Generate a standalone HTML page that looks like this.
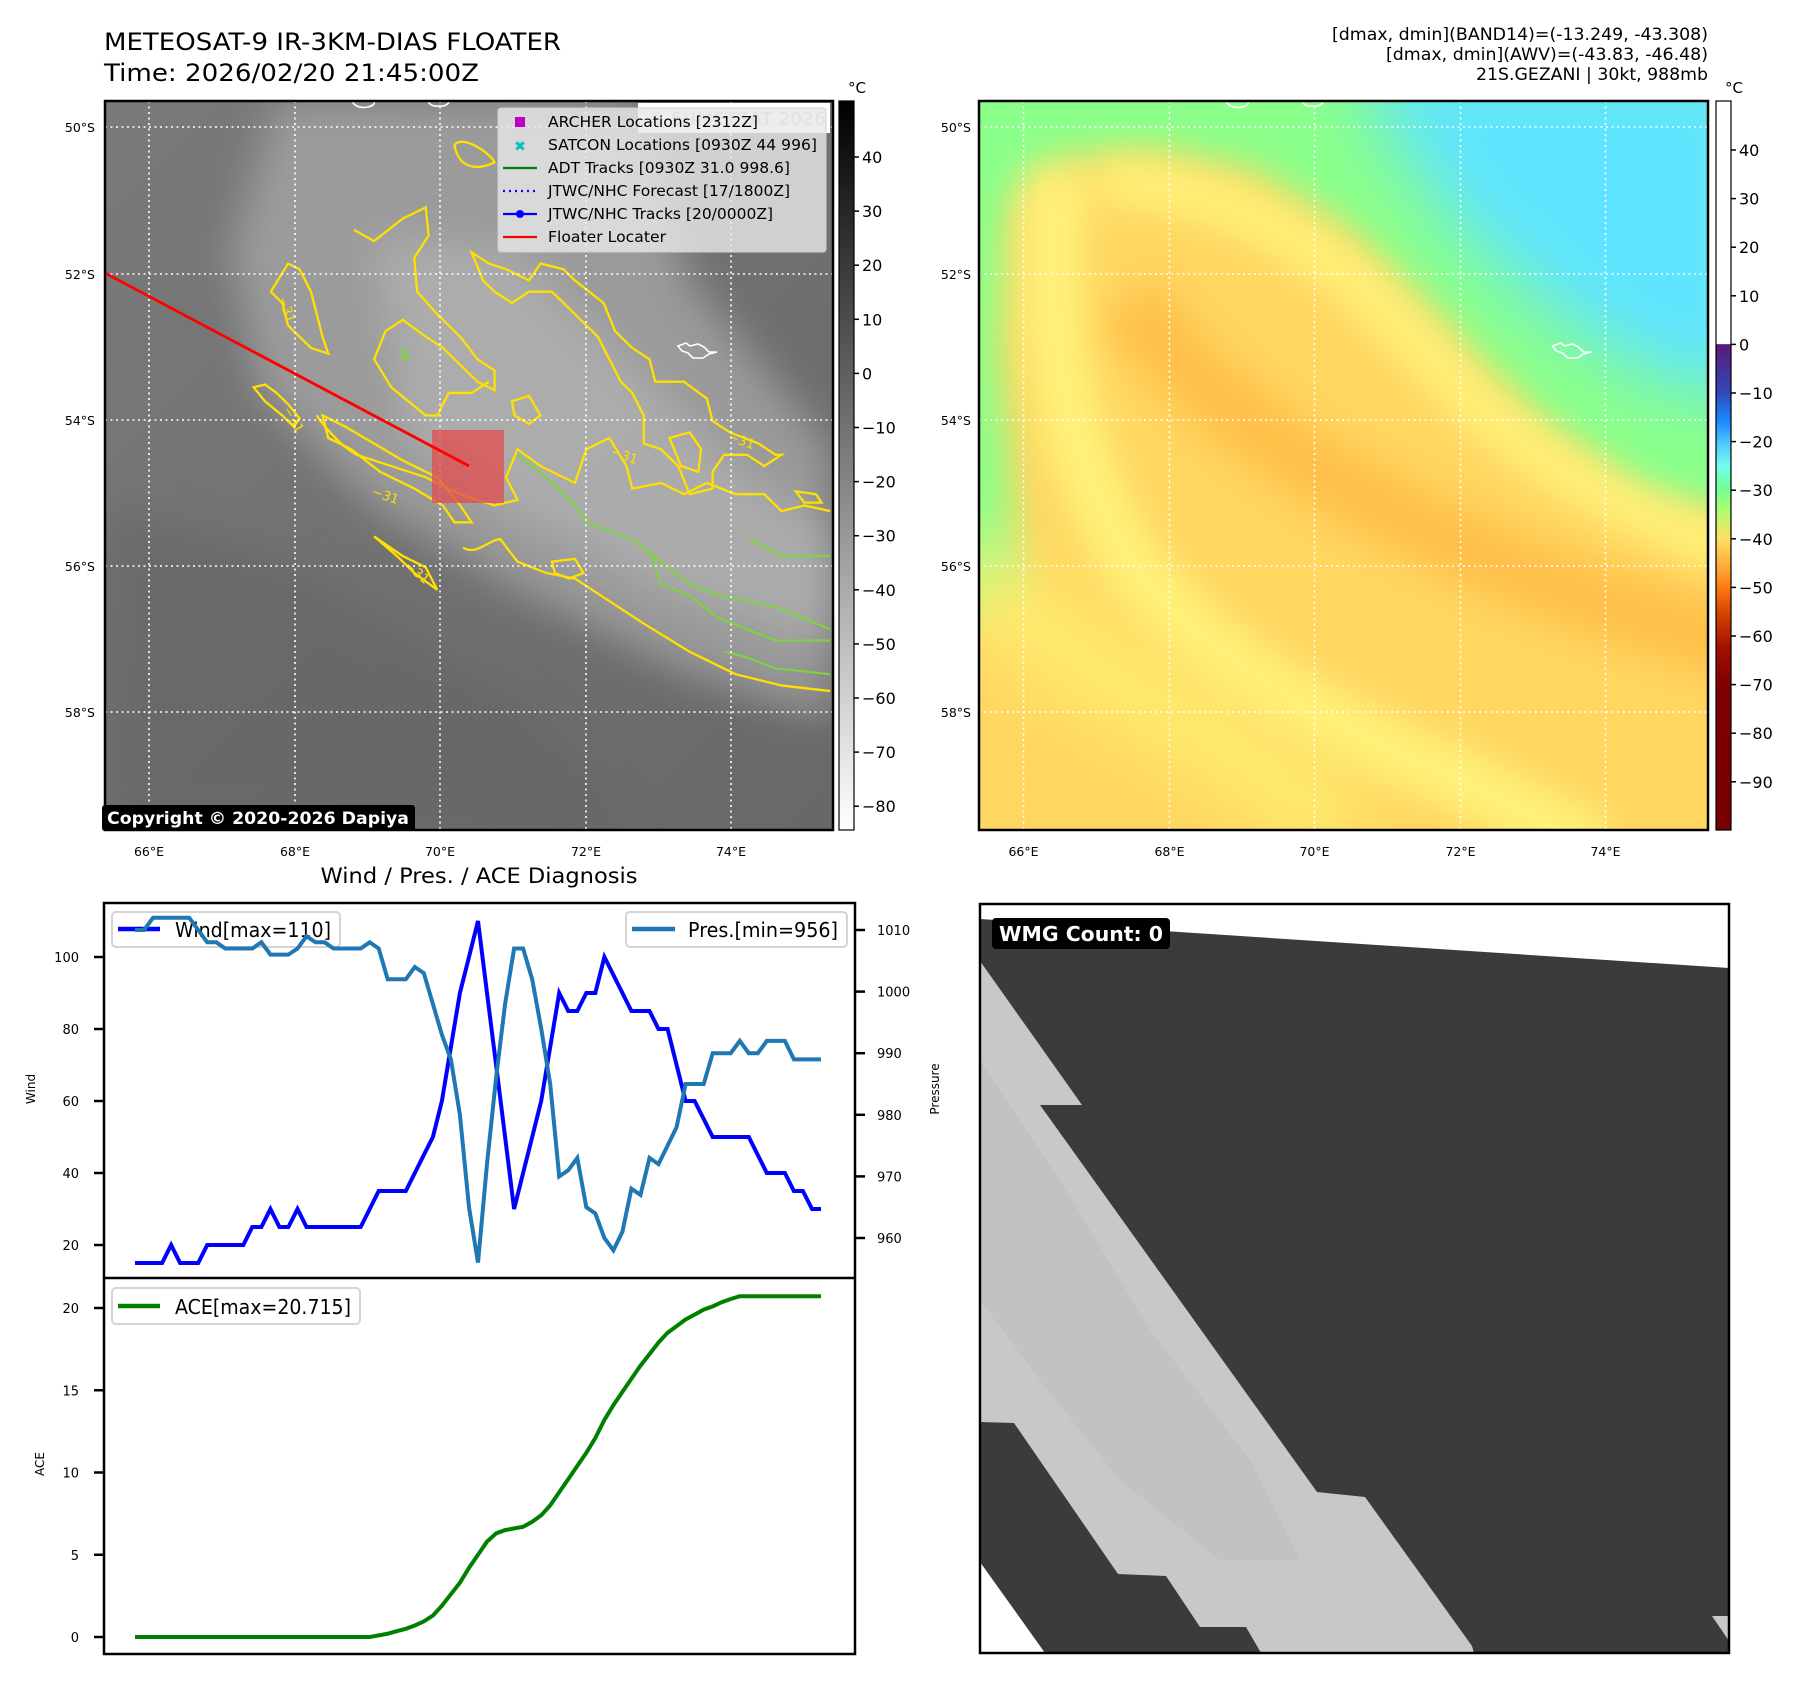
<!DOCTYPE html>
<html><head><meta charset="utf-8"><title>METEOSAT-9 Floater</title>
<style>
html,body{margin:0;padding:0;background:#fff;}
svg{display:block;font-family:"DejaVu Sans","Liberation Sans",sans-serif;}
</style></head>
<body>
<svg id="root" width="1797" height="1690" viewBox="0 0 1797 1690" xmlns="http://www.w3.org/2000/svg">
<defs>
<filter id="blur40" x="-30%" y="-30%" width="160%" height="160%"><feGaussianBlur stdDeviation="35"/></filter>
<filter id="blur20" x="-30%" y="-30%" width="160%" height="160%"><feGaussianBlur stdDeviation="18"/></filter>
<clipPath id="clip1"><rect x="105" y="101" width="728" height="729"/></clipPath>
<clipPath id="clip2"><rect x="979" y="101" width="729" height="729"/></clipPath>
<clipPath id="clip4"><rect x="980" y="904" width="749" height="749"/></clipPath>
<linearGradient id="cb1" x1="0" y1="0" x2="0" y2="1"><stop offset="0" stop-color="#000"/><stop offset="1" stop-color="#fff"/></linearGradient>
<linearGradient id="cb2" x1="0" y1="0" x2="0" y2="1">
<stop offset="0" stop-color="#ffffff"/><stop offset="0.333" stop-color="#ffffff"/>
<stop offset="0.334" stop-color="#5b1a78"/><stop offset="0.4" stop-color="#3048b8"/>
<stop offset="0.44" stop-color="#1a8cff"/><stop offset="0.47" stop-color="#50c8ff"/>
<stop offset="0.5" stop-color="#70fff0"/><stop offset="0.53" stop-color="#70ff9a"/>
<stop offset="0.56" stop-color="#a8ff70"/><stop offset="0.6" stop-color="#ffe060"/>
<stop offset="0.64" stop-color="#ffa838"/><stop offset="0.667" stop-color="#ff7a10"/>
<stop offset="0.7" stop-color="#d84800"/><stop offset="0.75" stop-color="#a01000"/>
<stop offset="0.8" stop-color="#800000"/><stop offset="1" stop-color="#780000"/>
</linearGradient>
<linearGradient id="map1base" x1="0" y1="0" x2="1" y2="1"><stop offset="0" stop-color="#7a7a7a"/><stop offset="1" stop-color="#686868"/></linearGradient>
</defs>

<!-- Titles -->
<text x="104" y="50" font-size="24" textLength="457" lengthAdjust="spacingAndGlyphs">METEOSAT-9 IR-3KM-DIAS FLOATER</text>
<text x="104" y="81" font-size="24" textLength="375" lengthAdjust="spacingAndGlyphs">Time: 2026/02/20 21:45:00Z</text>
<g font-size="16.5" text-anchor="end">
<text x="1708" y="40" textLength="376" lengthAdjust="spacingAndGlyphs">[dmax, dmin](BAND14)=(-13.249, -43.308)</text>
<text x="1708" y="60" textLength="322" lengthAdjust="spacingAndGlyphs">[dmax, dmin](AWV)=(-43.83, -46.48)</text>
<text x="1708" y="80" textLength="232" lengthAdjust="spacingAndGlyphs">21S.GEZANI | 30kt, 988mb</text>
</g>

<!-- MAP 1 -->
<g>
<g clip-path="url(#clip1)">
<rect x="105" y="101" width="728" height="729" fill="url(#map1base)"/>
<polygon filter="url(#blur40)" fill="#a8a8a8" opacity="0.75" transform="matrix(0.5737 0 0 0.5625 1.2 -0.8)" points="480,181 1100,181 1200,500 1450,800 1450,1280 1200,1200 900,1050 650,900 450,700 400,450"/>
<polygon filter="url(#blur40)" fill="#b8b8b8" opacity="0.6" transform="matrix(0.5737 0 0 0.5625 1.2 -0.8)" points="650,420 900,450 1100,650 1300,850 1450,950 1450,1150 1150,1050 900,920 700,780"/>
<polygon filter="url(#blur40)" fill="#626262" opacity="0.5" transform="matrix(0.5737 0 0 0.5625 1.2 -0.8)" points="181,900 500,1000 900,1250 1100,1477 181,1477"/>
<g transform="matrix(0.5737 0 0 0.5625 1.2 -0.8)" fill="none" stroke="#ffe000" stroke-width="2.3">
<path vector-effect="non-scaling-stroke" d="M550,740 C570,770 600,800 620,810 L680,830 740,850 800,880 860,900 900,890 880,850 900,800 940,830 1000,860 1020,800 1060,780 1090,830 1100,870 1150,860 1190,880 1230,860 1280,880 1330,880 1360,910 1400,900 1445,910"/>
<path vector-effect="non-scaling-stroke" d="M805,975 C830,990 850,960 870,960 L900,1000 950,1020 1000,1030 1060,1070 1120,1110 1200,1160 1280,1200 1360,1220 1445,1230"/>
<path vector-effect="non-scaling-stroke" d="M615,410 L650,430 700,390 740,370 745,420 720,460 725,520 760,560 800,600 830,640 860,660 860,695 830,680 800,650 770,620 740,600 700,570 670,590 650,640 680,690 740,740 760,740 780,700 820,700 850,680"/>
<path vector-effect="non-scaling-stroke" d="M820,450 L850,470 880,480 920,500 940,470 980,480 1000,500 1050,540 1070,590 1100,620 1130,640 1140,680 1190,680 1230,710 1240,750 1270,770 1320,790 1350,810 1360,810 1330,830 1300,810 1260,810 1240,840 1240,870 1200,880 1180,830 1150,800 1120,790 1120,740 1100,700 1080,680 1060,640 1040,600 1000,560 960,520 920,520 890,540 860,520 840,500 Z"/>
<path vector-effect="non-scaling-stroke" d="M440,690 L460,685 480,700 500,720 520,745 510,760 490,740 460,715 Z"/>
<path vector-effect="non-scaling-stroke" d="M470,520 L500,470 520,480 540,520 550,560 560,600 570,630 540,620 520,600 500,580 490,540 Z"/>
<path vector-effect="non-scaling-stroke" d="M650,955 L700,990 740,1010 760,1050 720,1020 690,990 Z"/>
<path vector-effect="non-scaling-stroke" d="M790,260 C800,240 850,270 860,290 C840,300 800,310 790,260 Z"/>
<path vector-effect="non-scaling-stroke" d="M560,740 L600,760 650,790 700,820 760,850 800,900 820,930 790,930 770,900 720,870 660,840 610,800 570,780 Z"/>
<path vector-effect="non-scaling-stroke" d="M890,715 L920,705 940,740 920,755 895,740 Z"/>
<path vector-effect="non-scaling-stroke" d="M1165,780 L1200,770 1220,800 1215,840 1185,830 Z"/>
<path vector-effect="non-scaling-stroke" d="M1385,875 L1420,880 1430,895 1400,895 Z"/>
<path vector-effect="non-scaling-stroke" d="M960,1000 L1000,995 1015,1020 990,1030 965,1020 Z"/>
</g>
<g transform="matrix(0.5737 0 0 0.5625 1.2 -0.8)" fill="none" stroke="#7cd63a" stroke-width="2">
<path vector-effect="non-scaling-stroke" d="M900,810 L950,850 1000,900 1020,930 1100,960 1150,1000 1200,1040 1250,1060 1300,1070 1350,1080 1445,1120"/>
<path vector-effect="non-scaling-stroke" d="M1130,980 L1150,1040 1200,1060 1250,1100 1300,1120 1350,1140 1445,1140"/>
<path vector-effect="non-scaling-stroke" d="M1260,1160 L1300,1170 1350,1190 1400,1195 1445,1200"/>
<path vector-effect="non-scaling-stroke" d="M1305,960 L1360,990 1445,990"/>
<path vector-effect="non-scaling-stroke" d="M700,620 L710,640 700,640 Z"/>
</g>
<g fill="#ffe000" font-size="13">
<text x="278" y="298" transform="rotate(70 278 298)">−31</text>
<text x="283" y="410" transform="rotate(60 283 410)">−31</text>
<text x="371" y="495" transform="rotate(20 371 495)">−31</text>
<text x="610" y="455" transform="rotate(20 610 455)">−31</text>
<text x="727" y="440" transform="rotate(20 727 440)">−31</text>
<text x="404" y="567" transform="rotate(40 404 567)">−31</text>
</g>
<g fill="none" stroke="#fff" stroke-width="1.6">
<path d="M678,346 l8,-3 4,3 8,-2 6,3 5,5 8,0 -8,2 -6,4 -10,0 -5,-5 -6,-2z"/>
<path d="M352,101 q4,8 16,6 q8,-2 6,-6"/>
<path d="M428,101 q2,6 12,5 q6,1 10,-5"/>
</g>
<g stroke="#fff" stroke-width="1.6" stroke-dasharray="2,3.5">
<line x1="149" y1="101" x2="149" y2="830"/><line x1="295" y1="101" x2="295" y2="830"/><line x1="440" y1="101" x2="440" y2="830"/><line x1="586" y1="101" x2="586" y2="830"/><line x1="731" y1="101" x2="731" y2="830"/>
<line x1="105" y1="127" x2="833" y2="127"/><line x1="105" y1="274" x2="833" y2="274"/><line x1="105" y1="420" x2="833" y2="420"/><line x1="105" y1="566" x2="833" y2="566"/><line x1="105" y1="712" x2="833" y2="712"/>
</g>
<rect x="432" y="430" width="72" height="73" fill="#e05050" opacity="0.78"/>
<line x1="105" y1="273" x2="469" y2="466" stroke="#ff0000" stroke-width="2.8"/>
<rect x="638" y="103" width="192" height="30" fill="#fff"/>
<text x="648" y="125" font-size="19" font-weight="bold" fill="#cfcfcf" textLength="178" lengthAdjust="spacingAndGlyphs">© EUMETSAT 2026</text>
</g>
<rect x="105" y="101" width="728" height="729" fill="none" stroke="#000" stroke-width="2.5"/>
<!-- legend -->
<g>
<rect x="498" y="108" width="328" height="144" rx="3" fill="#e8e8e8" fill-opacity="0.8" stroke="#d0d0d0"/>
<rect x="515" y="117" width="10" height="10" fill="#c000c0"/>
<text x="520" y="151" font-size="14" font-weight="bold" fill="#00c0c0" text-anchor="middle">✖</text>
<line x1="503" y1="168" x2="537" y2="168" stroke="#008000" stroke-width="2.3"/>
<line x1="503" y1="191" x2="537" y2="191" stroke="#0000ff" stroke-width="2.3" stroke-dasharray="2,4"/>
<line x1="503" y1="214" x2="537" y2="214" stroke="#0000ff" stroke-width="2.3"/><circle cx="520" cy="214" r="4" fill="#0000ff"/>
<line x1="503" y1="237" x2="537" y2="237" stroke="#ff0000" stroke-width="2.3"/>
<g font-size="15" fill="#000">
<text x="548" y="127" textLength="210" lengthAdjust="spacingAndGlyphs">ARCHER Locations [2312Z]</text>
<text x="548" y="150" textLength="269" lengthAdjust="spacingAndGlyphs">SATCON Locations [0930Z 44 996]</text>
<text x="548" y="173" textLength="242" lengthAdjust="spacingAndGlyphs">ADT Tracks [0930Z 31.0 998.6]</text>
<text x="548" y="196" textLength="242" lengthAdjust="spacingAndGlyphs">JTWC/NHC Forecast [17/1800Z]</text>
<text x="548" y="219" textLength="225" lengthAdjust="spacingAndGlyphs">JTWC/NHC Tracks [20/0000Z]</text>
<text x="548" y="242" textLength="118" lengthAdjust="spacingAndGlyphs">Floater Locater</text>
</g>
</g>
<rect x="102" y="805" width="313" height="26" rx="3" fill="#000"/>
<text x="107" y="824" font-size="17" font-weight="bold" fill="#fff" textLength="302" lengthAdjust="spacingAndGlyphs">Copyright © 2020-2026 Dapiya</text>
<g font-size="12.5" fill="#000">
<g text-anchor="end"><text x="95" y="132">50°S</text><text x="95" y="279">52°S</text><text x="95" y="425">54°S</text><text x="95" y="571">56°S</text><text x="95" y="717">58°S</text></g>
<g text-anchor="middle"><text x="149" y="856">66°E</text><text x="295" y="856">68°E</text><text x="440" y="856">70°E</text><text x="586" y="856">72°E</text><text x="731" y="856">74°E</text></g>
</g>
<rect x="839" y="101" width="15" height="729" fill="url(#cb1)" stroke="#000" stroke-width="1.2"/>
<text x="848" y="93" font-size="15">°C</text>
<g id="cb1ticks" font-size="16"></g>
</g>

<!-- MAP 2 -->
<g>
<g clip-path="url(#clip2)">
<rect x="979" y="101" width="729" height="729" fill="#ffd660"/>
<polygon filter="url(#blur20)" fill="#8aff8a" points="940,60 1760,60 1760,520 1650,500 1550,430 1450,330 1350,230 1250,170 1150,150 1060,160 1010,200 1000,350 1010,480 1020,600 940,620"/>
<polygon filter="url(#blur40)" fill="#5fe4ff" points="1350,60 1760,60 1760,400 1660,380 1560,320 1460,230 1400,150"/>
<path filter="url(#blur20)" fill="none" stroke="#fff27a" stroke-width="60" d="M1060,170 C1040,300 1060,450 1130,560 C1200,660 1320,720 1460,780 L1600,850"/>
<path filter="url(#blur20)" fill="none" stroke="#fff27a" stroke-width="45" d="M1100,180 C1250,190 1350,260 1450,380 C1550,480 1650,520 1760,560"/>
<path filter="url(#blur20)" fill="none" stroke="#ffc04a" stroke-width="70" d="M1130,300 C1200,400 1300,470 1450,540 C1550,590 1650,620 1760,650"/>
<path filter="url(#blur40)" fill="none" stroke="#ffec70" stroke-width="80" d="M950,560 C1050,650 1150,700 1250,760 L1350,840"/>
<path fill="none" stroke="#fff" stroke-width="1.6" d="M1552.5,346 l8,-3 4,3 8,-2 6,3 5,5 8,0 -8,2 -6,4 -10,0 -5,-5 -6,-2z"/>
<path fill="none" stroke="#fff" stroke-width="1.6" d="M1226,101 q4,8 16,6 q8,-2 6,-6 M1302,101 q2,6 12,5 q6,1 10,-5"/>
<g stroke="#fff" stroke-width="1.6" stroke-dasharray="2,3.5">
<line x1="1023.5" y1="101" x2="1023.5" y2="830"/><line x1="1169.5" y1="101" x2="1169.5" y2="830"/><line x1="1314.5" y1="101" x2="1314.5" y2="830"/><line x1="1460.5" y1="101" x2="1460.5" y2="830"/><line x1="1605.5" y1="101" x2="1605.5" y2="830"/>
<line x1="979" y1="127" x2="1708" y2="127"/><line x1="979" y1="274" x2="1708" y2="274"/><line x1="979" y1="420" x2="1708" y2="420"/><line x1="979" y1="566" x2="1708" y2="566"/><line x1="979" y1="712" x2="1708" y2="712"/>
</g>
</g>
<rect x="979" y="101" width="729" height="729" fill="none" stroke="#000" stroke-width="2.5"/>
<g font-size="12.5" fill="#000">
<g text-anchor="end"><text x="971" y="132">50°S</text><text x="971" y="279">52°S</text><text x="971" y="425">54°S</text><text x="971" y="571">56°S</text><text x="971" y="717">58°S</text></g>
<g text-anchor="middle"><text x="1023.5" y="856">66°E</text><text x="1169.5" y="856">68°E</text><text x="1314.5" y="856">70°E</text><text x="1460.5" y="856">72°E</text><text x="1605.5" y="856">74°E</text></g>
</g>
<rect x="1716" y="101" width="15" height="729" fill="url(#cb2)" stroke="#000" stroke-width="1.2"/>
<text x="1725" y="93" font-size="15">°C</text>
<g id="cb2ticks" font-size="16"></g>
</g>

<!-- Diagnosis chart -->
<text x="479" y="883" font-size="21" text-anchor="middle" textLength="317" lengthAdjust="spacingAndGlyphs">Wind / Pres. / ACE Diagnosis</text>
<g id="chart"></g>

<!-- WMG panel -->
<g>
<g clip-path="url(#clip4)">
<rect x="980" y="904" width="749" height="749" fill="#fff"/>
<polygon fill="#3b3b3b" points="980,919 1729,968 1729,1653 1045,1653 980,1562"/>
<polygon fill="#c8c8c8" points="980,961 1082,1105 1040,1105 1317,1492 1365,1497 1472,1646 1474,1653 1261,1653 1246,1627 1200,1627 1166,1576 1118,1574 1014,1423 980,1422"/>
<polygon fill="#c0c0c0" opacity="0.8" points="980,1060 1060,1180 1150,1330 1250,1460 1300,1560 1220,1560 1120,1480 1040,1380 980,1300"/>
<polygon fill="#c8c8c8" points="1712,1616 1729,1616 1729,1641"/>
</g>
<rect x="980" y="904" width="749" height="749" fill="none" stroke="#000" stroke-width="2.5"/>
<rect x="992" y="918" width="178" height="31" rx="4" fill="#000"/>
<text x="999" y="941" font-size="20" font-weight="bold" fill="#fff" textLength="164" lengthAdjust="spacingAndGlyphs">WMG Count: 0</text>
</g>

<script>
// ---- chart data (6-hourly fixes) ----
var windValues = [15,15,15,15,20,15,15,15,20,20,20,20,20,25,25,30,25,25,30,25,25,25,25,25,25,25,30,35,35,35,35,40,45,50,60,75,90,100,110,90,70,50,30,40,50,60,75,90,85,85,90,90,100,95,90,85,85,85,80,80,70,60,60,55,50,50,50,50,50,45,40,40,40,35,35,30,30];
var presValues = [1010,1010,1012,1012,1012,1012,1012,1010,1008,1008,1007,1007,1007,1007,1008,1006,1006,1006,1007,1009,1008,1008,1007,1007,1007,1007,1008,1007,1002,1002,1002,1004,1003,998,993,989,980,965,956,972,986,998,1007,1007,1002,994,985,970,971,973,965,964,960,958,961,968,967,973,972,975,978,985,985,985,990,990,990,992,990,990,992,992,992,989,989,989,989];
var aceValues = [0,0,0,0,0,0,0,0,0,0,0,0,0,0,0,0,0,0,0,0,0,0,0,0,0,0,0,0.1,0.2,0.35,0.5,0.7,0.95,1.3,1.9,2.6,3.3,4.2,5.0,5.8,6.3,6.5,6.6,6.7,7.0,7.4,8.0,8.8,9.6,10.4,11.2,12.1,13.2,14.1,14.9,15.7,16.5,17.2,17.9,18.5,18.9,19.3,19.6,19.9,20.1,20.35,20.55,20.715,20.715,20.715,20.715,20.715,20.715,20.715,20.715,20.715,20.715];
var windTicks = [20,40,60,80,100];
var presTicks = [960,970,980,990,1000,1010];
var aceTicks = [0,5,10,15,20];
var cb1Ticks = [40,30,20,10,0,-10,-20,-30,-40,-50,-60,-70,-80];
var cb2Ticks = [40,30,20,10,0,-10,-20,-30,-40,-50,-60,-70,-80,-90];

var NS = 'http://www.w3.org/2000/svg';
function mk(tag, attrs, parent){var e=document.createElementNS(NS,tag);for(var k in attrs)e.setAttribute(k,attrs[k]);parent.appendChild(e);return e;}

var cb1g=document.getElementById('cb1ticks');
function cb1Y(v){return 157+(40-v)*5.41;}
cb1Ticks.forEach(function(v){
  var y=cb1Y(v);
  var t=mk('line',{x1:854,y1:y,x2:859,y2:y,stroke:'#000','stroke-width':1.5},cb1g);
  
  
  var tx=mk('text',{x:862,y:y+6},cb1g);tx.textContent=(v<0?'\u2212'+(-v):v);
  
  
});
var cb2g=document.getElementById('cb2ticks');
function cb2Y(v){return 150+(40-v)*4.86;}
cb2Ticks.forEach(function(v){
  var y=cb2Y(v);
  var t=mk('line',{x1:1731,y1:y,x2:1736,y2:y,stroke:'#000','stroke-width':1.5},cb2g);
  
  
  var tx=mk('text',{x:1739,y:y+6},cb2g);tx.textContent=(v<0?'\u2212'+(-v):v);
  
  
});

var ch=document.getElementById('chart');
var X0=135, X1=821, SPLIT=1278;
function xAt(i,n){return X0+i*(X1-X0)/(n-1);}
function yWind(w){return 1245-(w-20)*3.6;}
function yPres(p){return 930+(1010-p)*6.16;}
function yAce(a){return 1637-a*16.45;}
function pts(arr,fy){return arr.map(function(v,i){return xAt(i,arr.length).toFixed(1)+','+fy(v).toFixed(1);}).join(' ');}

var bg=mk('rect',{x:104,y:903,width:751,height:751,fill:'#fff'},ch);



var wl=mk('g',{},ch);


mk('rect',{x:112,y:912,width:228,height:35,rx:4,fill:'#fff','fill-opacity':0.85,stroke:'#d4d4d4','stroke-width':2},wl);
mk('line',{x1:118,y1:929,x2:160,y2:929,stroke:'#0000ff','stroke-width':4.5},wl);
var wt=mk('text',{x:175,y:937,'font-size':20,textLength:156,lengthAdjust:'spacingAndGlyphs'},wl);wt.textContent='Wind[max=110]';

var windLine=mk('polyline',{points:pts(windValues,yWind),fill:'none',stroke:'#0000ff','stroke-width':4,'stroke-linejoin':'miter'},ch);


var presLine=mk('polyline',{points:pts(presValues,yPres),fill:'none',stroke:'#1f77b4','stroke-width':4},ch);



var pl=mk('g',{},ch);


mk('rect',{x:626,y:912,width:221,height:35,rx:4,fill:'#fff','fill-opacity':0.85,stroke:'#d4d4d4','stroke-width':2},pl);
mk('line',{x1:632,y1:929,x2:675,y2:929,stroke:'#1f77b4','stroke-width':4.5},pl);
var ptx=mk('text',{x:688,y:937,'font-size':20,textLength:150,lengthAdjust:'spacingAndGlyphs'},pl);ptx.textContent='Pres.[min=956]';

var aceLine=mk('polyline',{points:pts(aceValues,yAce),fill:'none',stroke:'#008000','stroke-width':4},ch);


var al=mk('g',{},ch);


mk('rect',{x:112,y:1288,width:248,height:36,rx:4,fill:'#fff','fill-opacity':0.85,stroke:'#d4d4d4','stroke-width':2},al);
mk('line',{x1:118,y1:1306,x2:160,y2:1306,stroke:'#008000','stroke-width':4.5},al);
var at=mk('text',{x:175,y:1314,'font-size':20,textLength:176,lengthAdjust:'spacingAndGlyphs'},al);at.textContent='ACE[max=20.715]';

mk('rect',{x:104,y:903,width:751,height:751,fill:'none',stroke:'#000','stroke-width':2.5},ch);
mk('line',{x1:104,y1:SPLIT,x2:855,y2:SPLIT,stroke:'#000','stroke-width':2.5},ch);

windTicks.forEach(function(v){var y=yWind(v);
  var t=mk('line',{x1:94,y1:y,x2:104,y2:y,stroke:'#000','stroke-width':2.5},ch);
  
  
  var tx=mk('text',{x:79,y:y+5,'font-size':13,'text-anchor':'end'},ch);tx.textContent=v;
  
  });
presTicks.forEach(function(v){var y=yPres(v);
  var t=mk('line',{x1:855,y1:y,x2:865,y2:y,stroke:'#000','stroke-width':2.5},ch);
  
  
  var tx=mk('text',{x:877,y:y+5,'font-size':13},ch);tx.textContent=v;
  
  });
aceTicks.forEach(function(v){var y=yAce(v);
  var t=mk('line',{x1:94,y1:y,x2:104,y2:y,stroke:'#000','stroke-width':2.5},ch);
  
  
  var tx=mk('text',{x:79,y:y+5,'font-size':13,'text-anchor':'end'},ch);tx.textContent=v;
  
  });

var yl1=mk('text',{x:35,y:1097,'font-size':12,'text-anchor':'middle',transform:'rotate(-90 31 1093)'},ch);yl1.textContent='Wind';


var yl2=mk('text',{x:939,y:1097,'font-size':12,'text-anchor':'middle',transform:'rotate(-90 935 1093)'},ch);yl2.textContent='Pressure';


var yl3=mk('text',{x:44,y:1472,'font-size':12,'text-anchor':'middle',transform:'rotate(-90 40 1468)'},ch);yl3.textContent='ACE';


</script>
</svg>
</body></html>
